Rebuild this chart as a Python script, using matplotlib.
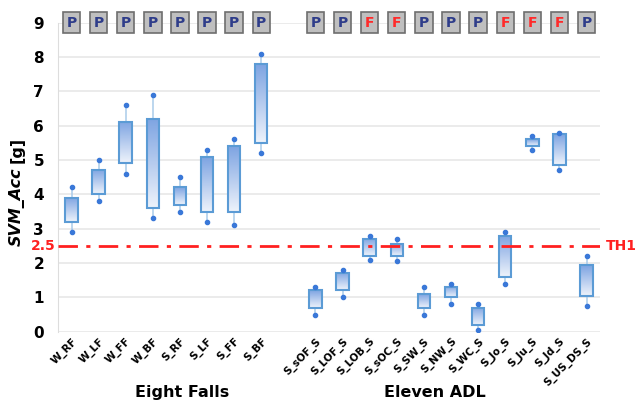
import numpy as np
import matplotlib.pyplot as plt
from matplotlib.patches import Rectangle
from matplotlib.colors import LinearSegmentedColormap

# falls and ADL task labels
fall_names = ['W_RF', 'W_LF', 'W_FF', 'W_BF', 'S_RF', 'S_LF', 'S_FF', 'S_BF']
adl_names = ['S_sOF_S', 'S_LOF_S', 'S_LOB_S', 'S_sOC_S', 'S_SW_S', 'S_NW_S',
             'S_WC_S', 'S_Jo_S', 'S_Ju_S', 'S_Jd_S', 'S_US_DS_S']

# SVM_Acc values [g]: min, box bottom, box top, max
fall_min = [2.9, 3.8, 4.6, 3.3, 3.5, 3.2, 3.1, 5.2]
fall_lo = [3.2, 4.0, 4.9, 3.6, 3.7, 3.5, 3.5, 5.5]
fall_hi = [3.9, 4.7, 6.1, 6.2, 4.2, 5.1, 5.4, 7.8]
fall_max = [4.2, 5.0, 6.6, 6.9, 4.5, 5.3, 5.6, 8.1]

adl_min = [0.5, 1.0, 2.1, 2.05, 0.5, 0.8, 0.05, 1.4, 5.3, 4.7, 0.75]
adl_lo = [0.7, 1.2, 2.2, 2.2, 0.7, 1.0, 0.2, 1.6, 5.4, 4.85, 1.05]
adl_hi = [1.2, 1.7, 2.7, 2.55, 1.1, 1.3, 0.7, 2.8, 5.6, 5.75, 1.95]
adl_max = [1.3, 1.8, 2.8, 2.7, 1.3, 1.4, 0.8, 2.9, 5.7, 5.8, 2.2]

# pass / fail results
fall_result = ['P'] * 8
adl_result = ['P', 'P', 'F', 'F', 'P', 'P', 'P', 'F', 'F', 'F', 'P']

threshold = 2.5

names = fall_names + adl_names
vmin = fall_min + adl_min
vlo = fall_lo + adl_lo
vhi = fall_hi + adl_hi
vmax = fall_max + adl_max
result = fall_result + adl_result
# one empty slot between the two groups
xpos = list(range(len(fall_names))) + list(range(len(fall_names) + 1, len(names) + 1))

fig = plt.figure(figsize=(6.37, 4.05), dpi=100)
ax = fig.add_axes([0.091, 0.181, 0.851, 0.763])

# grid
for v in range(10):
    ax.axhline(v, color='#e8e8e8', lw=1.2, zorder=0)
for s in ['top', 'right', 'bottom']:
    ax.spines[s].set_visible(False)
ax.spines['left'].set_color('#dddddd')

# gradient for the boxes
grad = np.linspace(0, 1, 100).reshape(-1, 1)
cmap = LinearSegmentedColormap.from_list('bx', ['#eef3fb', '#7ea4e2'])

w = 0.46
for x, a, b, c, d in zip(xpos, vmin, vlo, vhi, vmax):
    ax.plot([x, x], [a, b], color='#a9cbea', lw=1.1, zorder=2)
    ax.plot([x, x], [c, d], color='#a9cbea', lw=1.1, zorder=2)
    ax.imshow(grad, extent=[x - w / 2, x + w / 2, b, c], origin='lower',
              cmap=cmap, aspect='auto', zorder=3)
    ax.add_patch(Rectangle((x - w / 2, b), w, c - b, fill=False,
                           edgecolor='#5b9bd5', lw=1.5, zorder=4))
    ax.plot([x, x], [a, d], 'o', color='#3a78d8', ms=3, zorder=5)

ax.set_xlim(-0.5, 19.5)
ax.set_ylim(0, 9)

# threshold line
ax.axhline(threshold, color='#ff2020', lw=2, dashes=[7, 3, 1.5, 3], zorder=6)
ax.text(-0.6, threshold, '2.5', color='#ff2020', fontsize=10, fontweight='bold',
        ha='right', va='center')
ax.text(19.7, threshold, 'TH1', color='#ff2020', fontsize=10, fontweight='bold',
        ha='left', va='center')

# P/F markers
for x, r in zip(xpos, result):
    ax.add_patch(Rectangle((x - 0.32, 8.7), 0.64, 0.6, facecolor='#bfbfbf',
                           edgecolor='#6e6e6e', lw=1.2, clip_on=False, zorder=7))
    ax.text(x, 9.0, r, color='#2f3d8a' if r == 'P' else '#ff2a2a', fontsize=10,
            fontweight='bold', ha='center', va='center', zorder=8, clip_on=False)

ax.set_yticks(range(10))
ax.set_yticklabels([str(v) for v in range(10)], fontsize=11, fontweight='bold')
ax.tick_params(axis='y', length=0, pad=10)
ax.set_xticks(xpos)
ax.set_xticklabels(names, rotation=45, ha='right', rotation_mode='anchor',
                   fontsize=7.5, fontweight='bold')
ax.tick_params(axis='x', length=0, pad=3)

fig.text(0.027, 0.49, 'SVM_Acc', rotation=90, fontsize=11.5, fontweight='bold',
         fontstyle='italic', ha='center', va='center')
fig.text(0.027, 0.63, '[g]', rotation=90, fontsize=11.5, fontweight='bold',
         ha='center', va='center')

fig.text(0.286, 0.03, 'Eight Falls', fontsize=11.5, fontweight='bold', ha='center', va='center')
fig.text(0.683, 0.03, 'Eleven ADL', fontsize=11.5, fontweight='bold', ha='center', va='center')

fig.savefig('out.png', dpi=100)
